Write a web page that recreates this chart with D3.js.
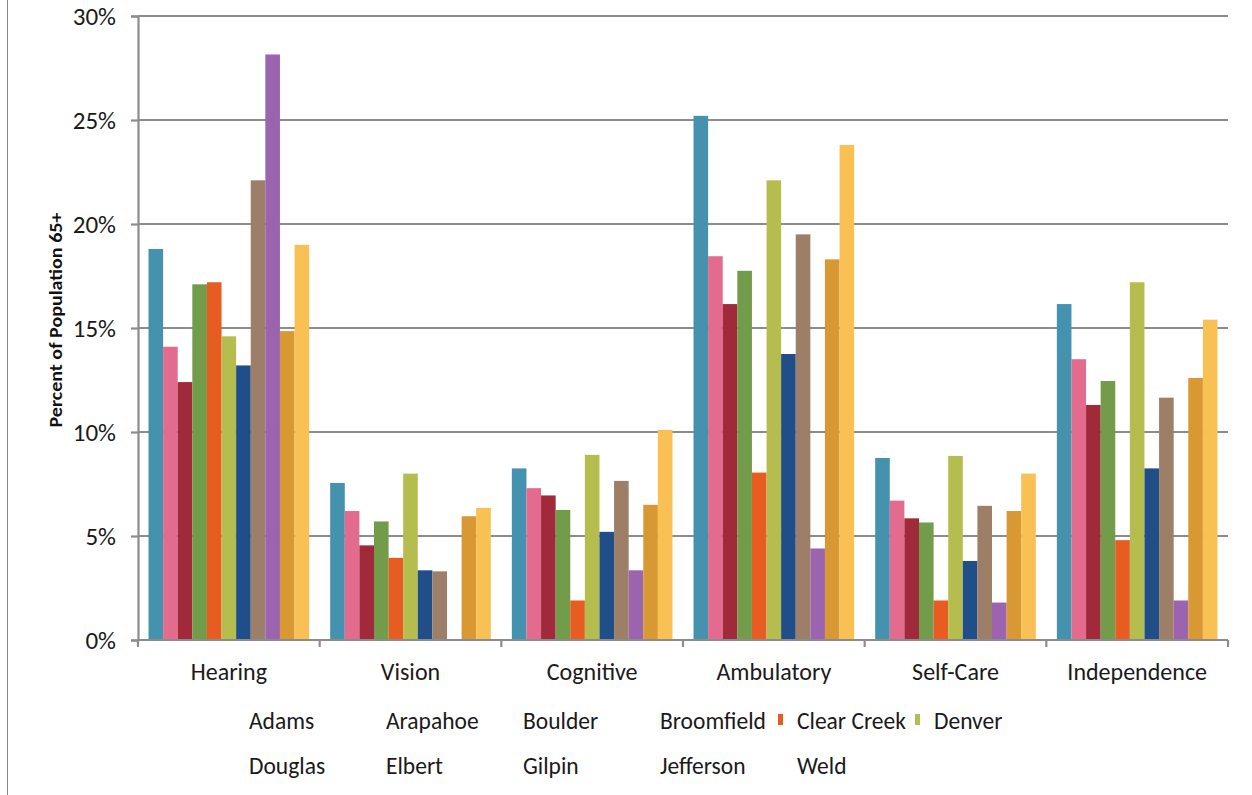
<!DOCTYPE html>
<html>
<head>
<meta charset="utf-8">
<script src="https://cdn.jsdelivr.net/npm/d3@7"></script>
<style>
  html, body { margin: 0; padding: 0; background: #fff; }
  svg { display: block; font-family: Carlito, Lato, "Open Sans", sans-serif; }
</style>
</head>
<body>
<svg id="chart" width="1252" height="795"></svg>
<script>
// Disability types (x groups)
const categories = ["Hearing", "Vision", "Cognitive", "Ambulatory", "Self-Care", "Independence"];

// Counties (series)
const counties = ["Adams", "Arapahoe", "Boulder", "Broomfield", "Clear Creek", "Denver",
                  "Douglas", "Elbert", "Gilpin", "Jefferson", "Weld"];

const countyColors = ["#4592af", "#e26b8e", "#a12a3a", "#729b4a", "#e65c21", "#b6bd4f",
                      "#1f4e89", "#9c7f66", "#9c63af", "#d89935", "#f9c153"];

// Percent of population 65+ with each difficulty, one array per county
// (order follows categories)
const adams      = [18.8, 7.55, 8.25, 25.2, 8.75, 16.15];
const arapahoe   = [14.1, 6.2, 7.3, 18.45, 6.7, 13.5];
const boulder    = [12.4, 4.55, 6.95, 16.15, 5.85, 11.3];
const broomfield = [17.1, 5.7, 6.25, 17.75, 5.65, 12.45];
const clearCreek = [17.2, 3.95, 1.9, 8.05, 1.9, 4.8];
const denver     = [14.6, 8.0, 8.9, 22.1, 8.85, 17.2];
const douglas    = [13.2, 3.35, 5.2, 13.75, 3.8, 8.25];
const elbert     = [22.1, 3.3, 7.65, 19.5, 6.45, 11.65];
const gilpin     = [28.15, 0, 3.35, 4.4, 1.8, 1.9];
const jefferson  = [14.85, 5.95, 6.5, 18.3, 6.2, 12.6];
const weld       = [19.0, 6.35, 10.1, 23.8, 8.0, 15.4];

const seriesValues = [adams, arapahoe, boulder, broomfield, clearCreek, denver,
                      douglas, elbert, gilpin, jefferson, weld];

const yTicks = [0, 5, 10, 15, 20, 25, 30];
const yTickLabels = ["0%", "5%", "10%", "15%", "20%", "25%", "30%"];

// Legend entries in two rows; only some entries show a colour swatch
const legendRows = [
  ["Adams", "Arapahoe", "Boulder", "Broomfield", "Clear Creek", "Denver"],
  ["Douglas", "Elbert", "Gilpin", "Jefferson", "Weld"]
];
const legendSwatches = ["Clear Creek", "Denver"];

const svg = d3.select("#chart");
const plotLeft = 138, plotRight = 1228, plotTop = 16, plotBottom = 640;
const axisColor = "#8c8c8c";
const textColor = "#1a1a1a";

// outer frame line on the left
svg.append("line")
  .attr("x1", 7.5).attr("x2", 7.5).attr("y1", 0).attr("y2", 795)
  .attr("stroke", "#8a8a8a").attr("stroke-width", 1);

const x0 = d3.scaleBand().domain(categories).range([plotLeft, plotRight]).paddingInner(0).paddingOuter(0);
const x1 = d3.scaleBand().domain(counties).range([0, x0.bandwidth()]).paddingInner(0).paddingOuter(0.72);
const y = d3.scaleLinear().domain([0, 30]).range([plotBottom, plotTop]);
const color = d3.scaleOrdinal().domain(counties).range(countyColors);

// horizontal gridlines
svg.append("g").selectAll("line")
  .data(yTicks.filter(t => t > 0))
  .join("line")
  .attr("x1", plotLeft).attr("x2", plotRight)
  .attr("y1", d => y(d)).attr("y2", d => y(d))
  .attr("stroke", axisColor).attr("stroke-width", 2.2);

// bars
const rows = categories.map((c, i) => ({
  category: c,
  values: counties.map((k, j) => ({ county: k, value: seriesValues[j][i] }))
}));

svg.append("g").selectAll("g")
  .data(rows)
  .join("g")
  .attr("transform", d => `translate(${x0(d.category)},0)`)
  .selectAll("rect")
  .data(d => d.values)
  .join("rect")
  .attr("x", d => x1(d.county))
  .attr("width", x1.bandwidth())
  .attr("y", d => y(d.value))
  .attr("height", d => y(0) - y(d.value))
  .attr("fill", d => color(d.county));

// y axis
const yAxis = d3.axisLeft(y)
  .tickValues(yTicks)
  .tickFormat((d, i) => yTickLabels[i])
  .tickSize(7)
  .tickPadding(15);
const gy = svg.append("g").attr("transform", `translate(${plotLeft},0)`).call(yAxis);
gy.select(".domain").attr("stroke", axisColor).attr("stroke-width", 2.2);
gy.selectAll(".tick line").attr("stroke", axisColor).attr("stroke-width", 2.2);
gy.selectAll(".tick text").attr("fill", textColor).style("font-size", "25px")
  .style("font-family", "Carlito, Lato, sans-serif");

// x axis
const xAxis = d3.axisBottom(x0).tickSize(0).tickPadding(23);
const gx = svg.append("g").attr("transform", `translate(0,${plotBottom})`).call(xAxis);
gx.select(".domain").remove();
gx.selectAll(".tick text").attr("fill", textColor).style("font-size", "24px")
  .style("font-family", "Carlito, Lato, sans-serif");
gx.append("line").attr("x1", plotLeft).attr("x2", plotRight).attr("y1", 0).attr("y2", 0)
  .attr("stroke", axisColor).attr("stroke-width", 2.2);
gx.selectAll(".sep")
  .data(categories.map(c => x0(c)).concat([plotRight]))
  .join("line")
  .attr("class", "sep")
  .attr("x1", d => d).attr("x2", d => d)
  .attr("y1", 0).attr("y2", 7)
  .attr("stroke", axisColor).attr("stroke-width", 2.2);

// y axis title
svg.append("text")
  .attr("transform", "translate(62,320) rotate(-90)")
  .attr("text-anchor", "middle")
  .attr("textLength", 215)
  .attr("lengthAdjust", "spacingAndGlyphs")
  .style("font-size", "18px")
  .style("font-weight", "bold")
  .attr("fill", "#111")
  .text("Percent of Population 65+");

// legend
const legendX = d3.scaleLinear().domain([0, 1]).range([249, 386]);
const legendY = [721, 766];
legendRows.forEach((row, r) => {
  const g = svg.append("g");
  row.forEach((name, i) => {
    const tx = legendX(i);
    if (legendSwatches.includes(name)) {
      g.append("rect")
        .attr("x", tx - 19).attr("y", legendY[r] - 7)
        .attr("width", 5).attr("height", 11)
        .attr("fill", color(name));
    }
    g.append("text")
      .attr("x", tx).attr("y", legendY[r])
      .attr("dy", "0.35em")
      .style("font-size", "23.5px")
      .attr("fill", textColor)
      .text(name);
  });
});
</script>
</body>
</html>
